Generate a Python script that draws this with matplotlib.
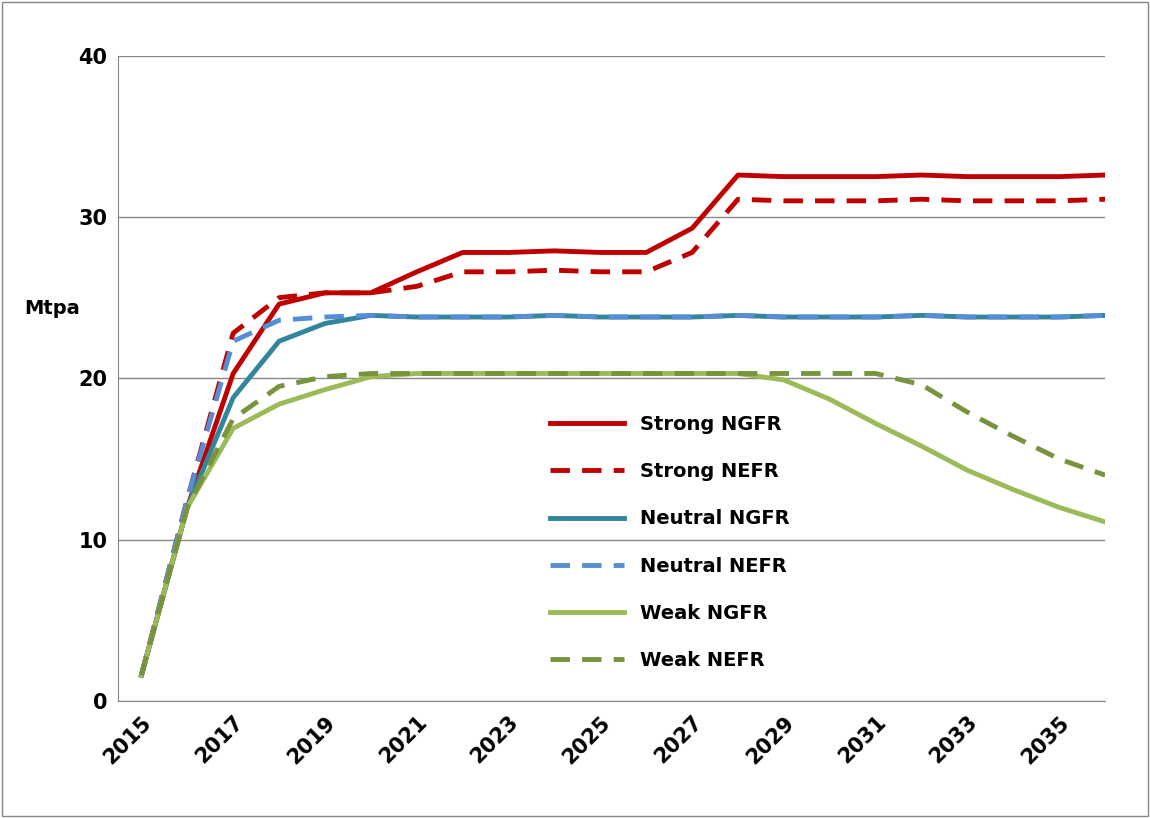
import matplotlib.pyplot as plt
import numpy as np

years = list(range(2015, 2037))
strong_ngfr = [1.6, 12, 20.3, 24.6, 25.3, 25.3, 26.6, 27.8, 27.8, 27.9, 27.8, 27.8, 29.3, 32.6,
               32.5, 32.5, 32.5, 32.6, 32.5, 32.5, 32.5, 32.6]
strong_nefr = [1.6, 12.5, 22.8, 25.0, 25.3, 25.3, 25.7, 26.6, 26.6, 26.7, 26.6, 26.6, 27.8, 31.1,
               31.0, 31.0, 31.0, 31.1, 31.0, 31.0, 31.0, 31.1]
neutral_ngfr = [1.6, 12, 18.8, 22.3, 23.4, 23.9, 23.8, 23.8, 23.8, 23.9, 23.8, 23.8, 23.8, 23.9,
                23.8, 23.8, 23.8, 23.9, 23.8, 23.8, 23.8, 23.9]
neutral_nefr = [1.6, 12.5, 22.3, 23.6, 23.8, 23.9, 23.8, 23.8, 23.8, 23.9, 23.8, 23.8, 23.8, 23.9,
                23.8, 23.8, 23.8, 23.9, 23.8, 23.8, 23.8, 23.9]
weak_ngfr = [1.6, 12, 16.9, 18.4, 19.3, 20.1, 20.3, 20.3, 20.3, 20.3, 20.3, 20.3, 20.3, 20.3,
             19.9, 18.7, 17.2, 15.8, 14.3, 13.1, 12.0, 11.1]
weak_nefr = [1.6, 12, 17.5, 19.5, 20.1, 20.3, 20.3, 20.3, 20.3, 20.3, 20.3, 20.3, 20.3, 20.3,
             20.3, 20.3, 20.3, 19.6, 17.9, 16.4, 15.0, 14.0]

fig = plt.figure(figsize=(11.5, 8.18), dpi=100)
fig.patches.append(plt.Rectangle((0.002, 0.002), 0.996, 0.996, transform=fig.transFigure,
                                 fill=False, edgecolor='#888888', lw=1))
ax = fig.add_axes([0.103, 0.143, 0.858, 0.789])
x = np.arange(len(years))
ax.plot(x, strong_ngfr, color='#C00000', lw=3.5, label='Strong NGFR')
ax.plot(x, strong_nefr, color='#C00000', lw=3.5, ls=(0, (4, 2.5)), label='Strong NEFR')
ax.plot(x, neutral_ngfr, color='#31859C', lw=3.5, label='Neutral NGFR')
ax.plot(x, neutral_nefr, color='#558ED5', lw=3.5, ls=(0, (4, 2.5)), label='Neutral NEFR')
ax.plot(x, weak_ngfr, color='#9BBB59', lw=3.5, label='Weak NGFR')
ax.plot(x, weak_nefr, color='#77933C', lw=3.5, ls=(0, (4, 2.5)), label='Weak NEFR')

ax.set_xlim(-0.5, 21)
ax.set_ylim(0, 40)
ax.set_yticks([0, 10, 20, 30, 40])
ax.set_xticks(x[::2])
ax.set_xticklabels(years[::2], rotation=45, ha='right', rotation_mode='anchor')
ax.tick_params(labelsize=15, length=0, pad=8)
for lab in ax.get_xticklabels() + ax.get_yticklabels():
    lab.set_fontweight('bold')
ax.yaxis.grid(True, color='#888888', lw=1)
ax.set_axisbelow(True)
for s in ['top', 'right']:
    ax.spines[s].set_visible(False)
for s in ['left', 'bottom']:
    ax.spines[s].set_color('#888888')
ax.text(-0.095, 24.3, 'Mtpa', transform=ax.get_yaxis_transform(), fontsize=14,
        fontweight='bold', ha='left', va='center')
leg = ax.legend(loc='lower left', bbox_to_anchor=(0.42, 0.021), frameon=False,
                prop={'size': 14, 'weight': 'bold'}, handlelength=3.8, labelspacing=1.45)
plt.savefig('out.png')
